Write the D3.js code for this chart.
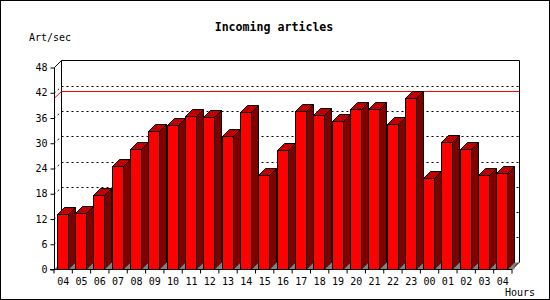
<!DOCTYPE html>
<html>
<head>
<meta charset="utf-8">
<script src="https://cdn.jsdelivr.net/npm/d3@7"></script>
<style>
  body { margin: 0; background: #fff; }
  svg { display: block; }
  text { font-family: "DejaVu Sans Mono", monospace; font-size: 10px; fill: #000; }
</style>
</head>
<body>
<svg id="chart" width="550" height="300"></svg>
<script>
// hours on the x axis
var hours = ["04","05","06","07","08","09","10","11","12","13","14","15","16",
             "17","18","19","20","21","22","23","00","01","02","03","04b"];
// articles per second, one per hour
var rates = [13.1, 13.4, 17.6, 24.5, 28.6, 32.8, 34.3, 36.5, 36.2, 31.7, 37.4, 22.5, 28.3,
             37.6, 36.6, 35.2, 38.1, 38.1, 34.5, 40.7, 21.7, 30.2, 28.6, 22.5, 22.9];
var yTicks = [0, 6, 12, 18, 24, 30, 36, 42, 48];

var W = 550, H = 300, depth = 7;
var plotLeft = 54, plotRight = 512, plotBottom = 269.5, plotTop = 67.5;

var svg = d3.select("#chart");
var x = d3.scaleBand().domain(hours).range([plotLeft, plotRight]);
var y = d3.scaleLinear().domain([0, 48]).range([plotBottom, plotTop]);
var step = x.step(), bw = step * 0.6, off = step * 0.15;
var maxVal = d3.max(rates);

// Frame round the image
svg.append("rect").attr("x", 0.5).attr("y", 0.5).attr("width", W - 1).attr("height", H - 1)
  .attr("fill", "#fff").attr("stroke", "#000");

// Floor
var b = plotBottom;
svg.append("path")
  .attr("d", "M" + plotLeft + "," + b + "L" + plotRight + "," + b + "L" + (plotRight + depth) + "," + (b - depth) +
        "L" + (plotLeft + depth) + "," + (b - depth) + "Z")
  .attr("fill", "#808080");
svg.append("line").attr("x1", plotRight).attr("y1", b).attr("x2", plotRight + depth).attr("y2", b - depth)
  .attr("stroke", "#000");

// Back wall edges
var bx0 = plotLeft + depth + 0.5, bx1 = plotRight + depth + 0.5, by0 = y(48) - depth;
svg.append("path")
  .attr("d", "M" + bx0 + "," + (b - depth) + "V" + by0 + "H" + bx1 + "V" + (b - depth))
  .attr("fill", "none").attr("stroke", "#000");
svg.append("line").attr("x1", plotLeft + 0.5).attr("y1", y(48)).attr("x2", bx0).attr("y2", by0)
  .attr("stroke", "#000");

// Dotted grid on the back and left walls
var grid = svg.append("g").attr("stroke", "#000").attr("stroke-dasharray", "2,3");
yTicks.filter(function(v) { return v > 0 && v < 48; }).forEach(function(v) {
  var yy = Math.round(y(v)) + 0.5;
  grid.append("line").attr("x1", bx0).attr("x2", bx1).attr("y1", yy - depth).attr("y2", yy - depth);
  grid.append("line").attr("x1", plotLeft).attr("x2", bx0).attr("y1", yy).attr("y2", yy - depth);
});

// Max line
var ym = Math.round(y(maxVal)) + 0.5;
svg.append("path")
  .attr("d", "M" + plotLeft + "," + ym + "L" + bx0 + "," + (ym - depth) + "H" + bx1)
  .attr("fill", "none").attr("stroke", "#ff0000");

// Bars
var bars = svg.append("g").attr("stroke", "#000").attr("stroke-linejoin", "miter");
hours.forEach(function(h, i) {
  var x0 = Math.round(x(h) + off) + 0.5, x1 = x0 + Math.round(bw), yt = Math.round(y(rates[i])) + 0.5;
  bars.append("path") // side
    .attr("d", "M" + x1 + "," + b + "L" + (x1 + depth) + "," + (b - depth) + "V" + (yt - depth) +
          "L" + x1 + "," + yt + "Z")
    .attr("fill", "#800000");
  bars.append("path") // floor showing under the side
    .attr("d", "M" + x1 + "," + b + "L" + (x1 + depth) + "," + (b - depth) + "V" + b + "Z")
    .attr("fill", "#808080").attr("stroke", "none");
  bars.append("path") // top
    .attr("d", "M" + x0 + "," + yt + "L" + (x0 + depth) + "," + (yt - depth) + "H" + (x1 + depth) +
          "L" + x1 + "," + yt + "Z")
    .attr("fill", "#c00000");
  bars.append("rect") // front
    .attr("x", x0).attr("y", yt).attr("width", x1 - x0).attr("height", b - yt)
    .attr("fill", "#ff0000");
});

// Y axis
var yAxis = d3.axisLeft(y).tickValues(yTicks).tickSize(4).tickSizeOuter(0).tickPadding(3);
svg.append("g").attr("transform", "translate(" + (plotLeft + 0.5) + ",0)").call(yAxis)
  .call(function(g) {
    g.selectAll("text").style("font-family", "DejaVu Sans Mono").style("font-size", "10px");
    g.select(".domain").attr("d", "M0," + plotTop + "V" + b);
  });

// X axis: ticks on band edges, labels in band centres
var xAxis = d3.axisBottom(x).tickSize(4).tickSizeOuter(0).tickPadding(4)
  .tickFormat(function(d) { return d.slice(0, 2); });
svg.append("g").attr("transform", "translate(0," + b + ")").call(xAxis)
  .call(function(g) {
    g.selectAll("text").style("font-family", "DejaVu Sans Mono").style("font-size", "10px");
    g.selectAll(".tick line").attr("x1", -step / 2).attr("x2", -step / 2);
    g.select(".domain").attr("d", "M" + (plotLeft - 4) + ",0H" + plotRight);
    g.append("line").attr("x1", plotRight).attr("x2", plotRight).attr("y1", 0).attr("y2", 4).attr("stroke", "#000");
  });

// Titles
svg.append("text").attr("x", 274).attr("y", 31).attr("text-anchor", "middle")
  .style("font-weight", "bold").style("font-size", "11.6px").text("Incoming articles");
svg.append("text").attr("x", 29).attr("y", 41).text("Art/sec");
svg.append("text").attr("x", 505).attr("y", 296).text("Hours");
</script>
</body>
</html>
